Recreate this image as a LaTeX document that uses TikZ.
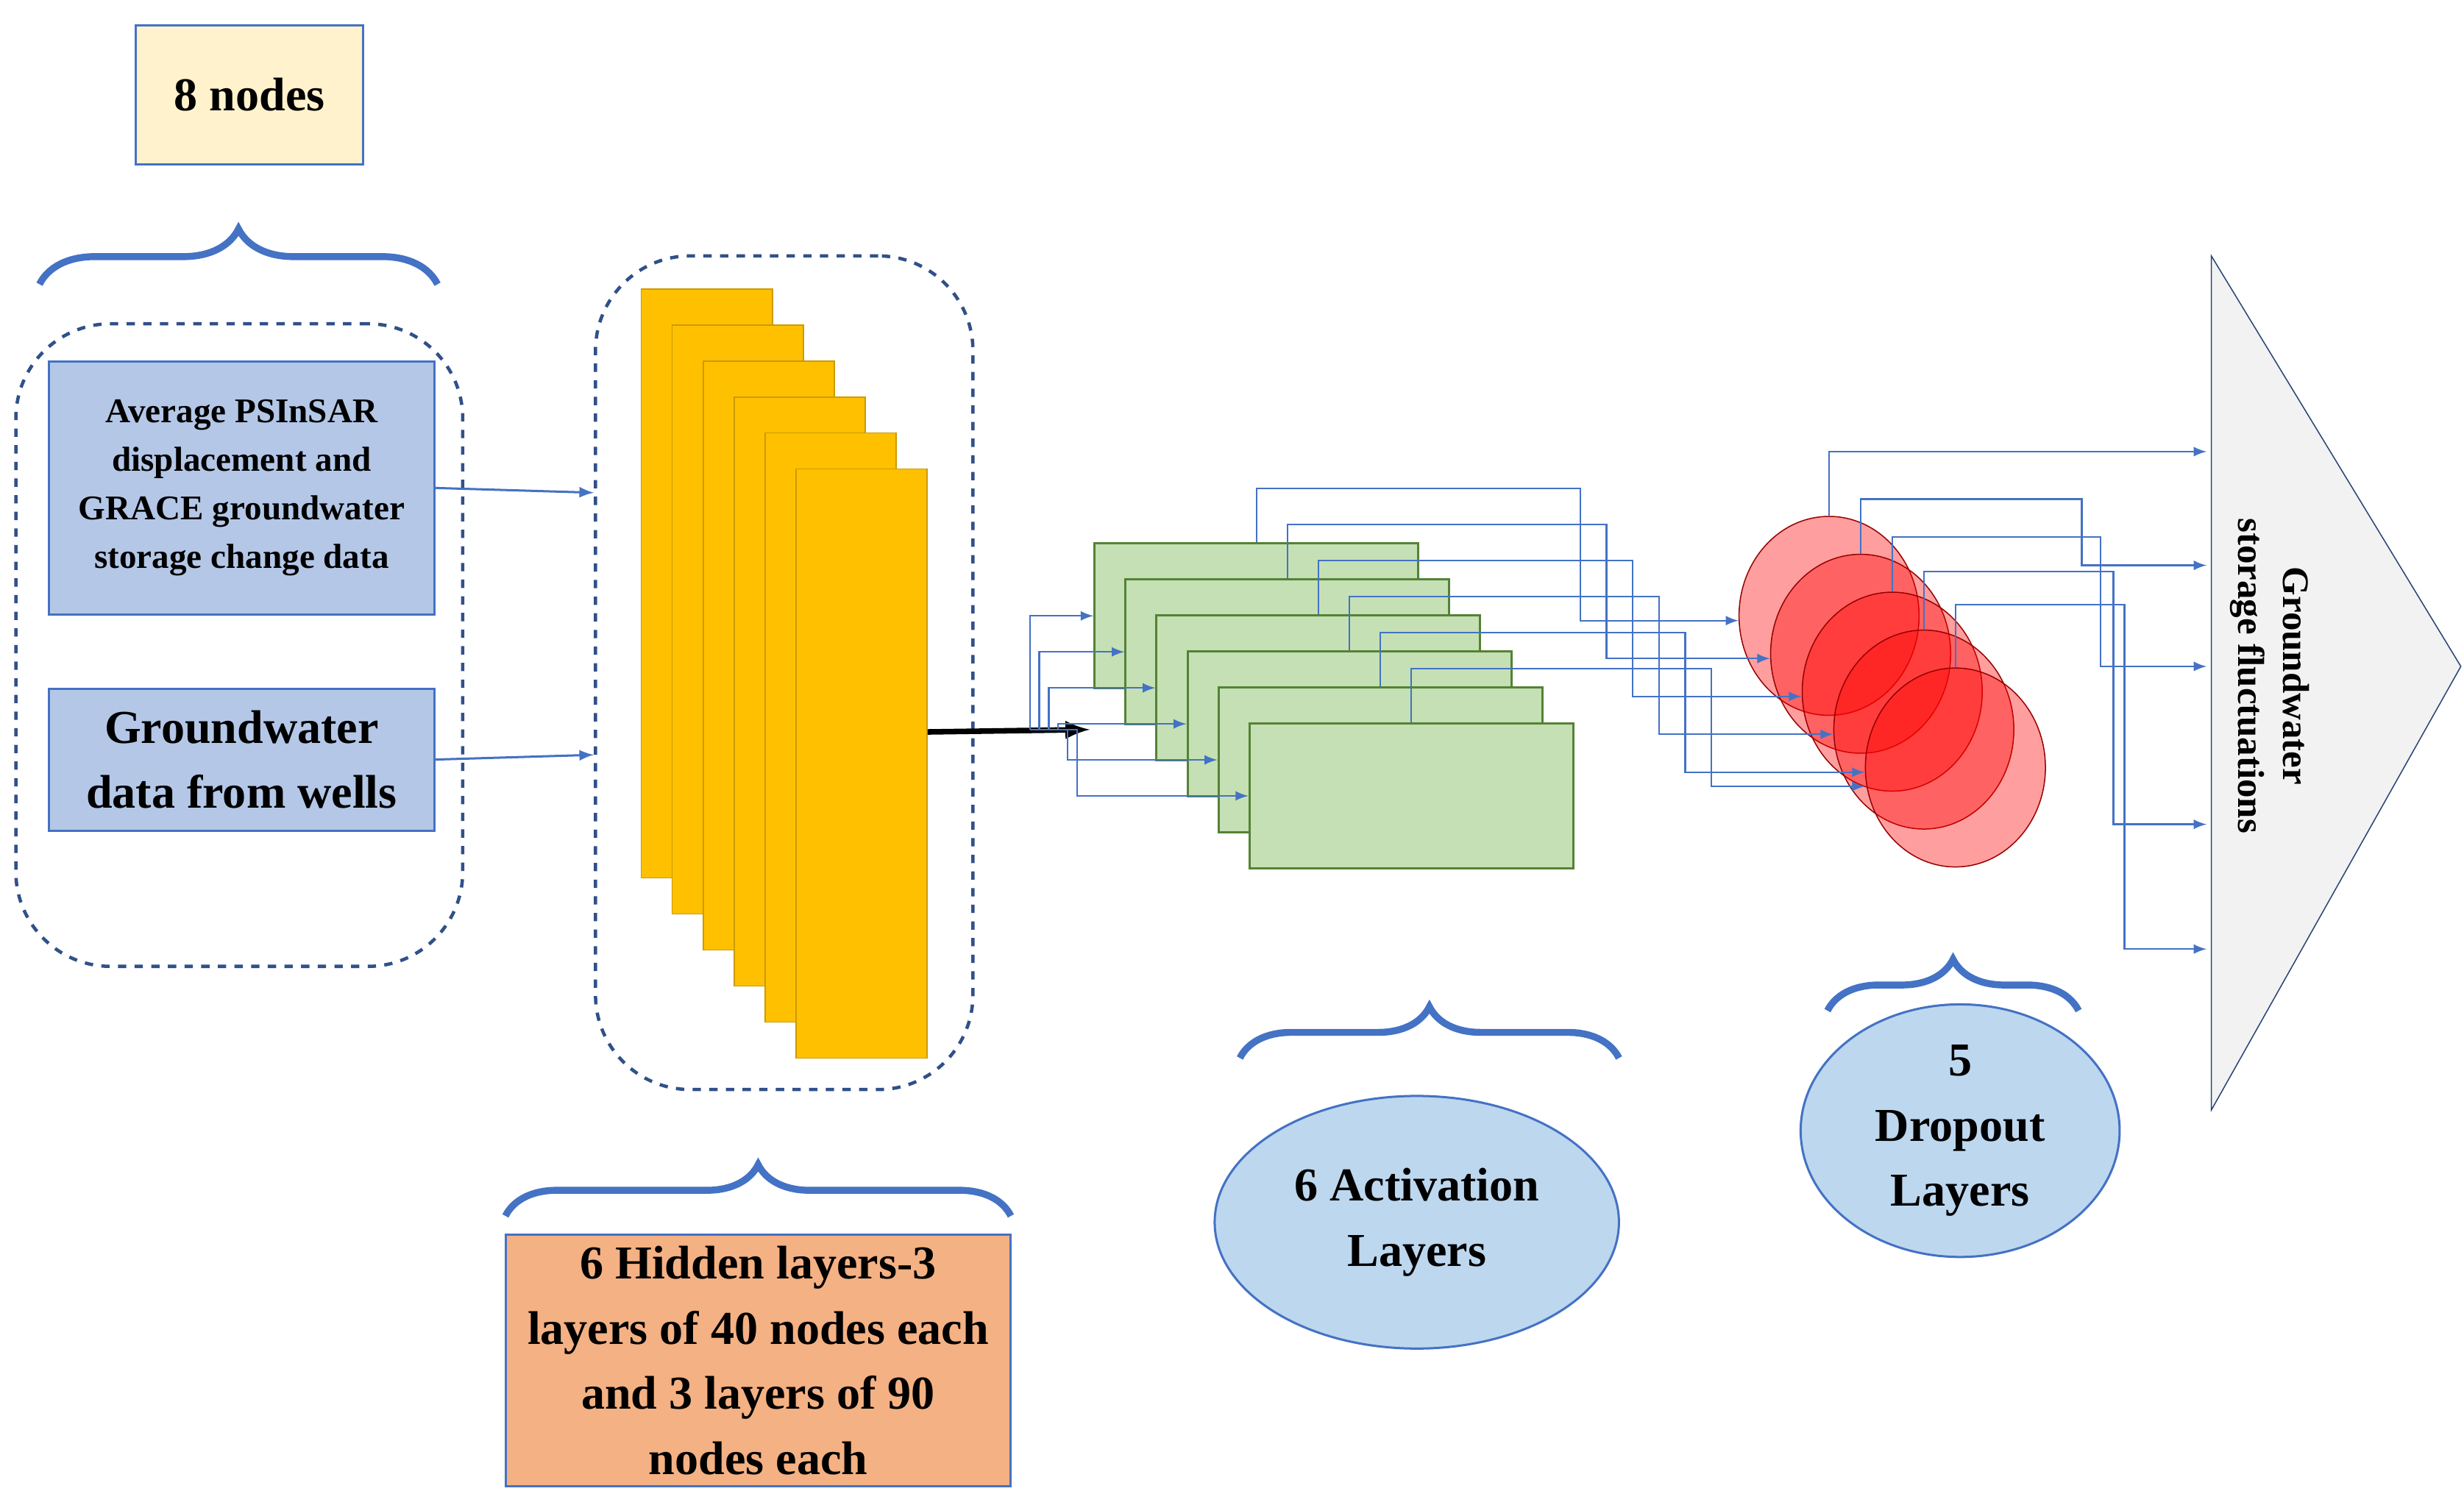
\documentclass[tikz,border=0pt]{standalone}
\usepackage{fontspec}
\setmainfont{Liberation Serif}
\usetikzlibrary{shapes.geometric,decorations.pathreplacing,calc}
\definecolor{linkblue}{RGB}{68,114,196}
\definecolor{boxblue}{RGB}{180,199,231}
\definecolor{ellblue}{RGB}{189,215,238}
\definecolor{hidorange}{RGB}{255,192,0}
\definecolor{actgreen}{RGB}{197,224,180}
\definecolor{edgegreen}{RGB}{84,130,53}
\definecolor{noteorange}{RGB}{244,177,131}
\definecolor{noteyellow}{RGB}{255,242,204}
\begin{document}
\begin{tikzpicture}[x=0.02cm,y=-0.02cm,
  box/.style={draw=linkblue,thick,align=center,inner sep=1pt,font=\bfseries},
  big/.style={font=\fontsize{17}{23.5}\selectfont\bfseries},
  small/.style={font=\fontsize{12.5}{17.5}\selectfont\bfseries},
  group/.style={draw=linkblue!70!black,dashed,line width=1.2pt,rounded corners=1.2cm},
  brc/.style={draw=linkblue,line width=2.5pt,decorate,decoration={brace,amplitude=#1}},
  hid/.style={draw=hidorange!80!black,fill=hidorange,minimum width=1.66cm,minimum height=7.46cm,inner sep=0},
  act/.style={draw=edgegreen,fill=actgreen,thick,minimum width=4.1cm,minimum height=1.84cm,inner sep=0},
  drop/.style={ellipse,draw=red!60!black,fill=red,fill opacity=0.38,minimum width=2.28cm,minimum height=2.52cm,inner sep=0},
  link/.style={draw=linkblue,semithick,-latex}]
\useasboundingbox (0,0) rectangle (1560,953);

% input side
\node[box,big,fill=noteyellow,minimum width=2.88cm,minimum height=1.76cm] (nodes) at (158,60) {8 nodes};
\draw[brc=0.7cm] (25,180) -- (277,180);
\node[group,minimum width=5.66cm,minimum height=8.14cm] (ingroup) at (151.5,408.5) {};
\node[box,small,fill=boxblue,minimum width=4.88cm,minimum height=3.2cm] (psinsar) at (153,309) {Average PSInSAR\\displacement and\\GRACE groundwater\\storage change data};
\node[box,big,fill=boxblue,minimum width=4.88cm,minimum height=1.8cm] (wells) at (153,481) {Groundwater\\data from wells};

% hidden layers
\node[group,minimum width=4.78cm,minimum height=10.56cm] (hidgroup) at (496.5,426) {};
\foreach \i in {0,...,5}
  \node[hid] (h\i) at (447.5+19.6*\i,369.5+22.8*\i) {};
\draw[link,thick] (psinsar.east) -- ($(hidgroup.west)+(0,-114)$);
\draw[link,thick] (wells.east) -- ($(hidgroup.west)+(0,52)$);
\draw[brc=0.65cm] (320,770) -- (640,770);
\node[box,big,fill=noteorange,minimum width=6.4cm,minimum height=3.18cm] (hidnote) at (480,861.5) {6 Hidden layers-3\\layers of 40 nodes each\\and 3 layers of 90\\nodes each};

% activation layers
\foreach \i in {0,...,5}
  \node[act] (g\i) at (795.5+19.6*\i,390+22.8*\i) {};
\coordinate (fork) at (652,462);
\coordinate (trunk) at (690,462);
\draw[line width=2pt,-latex] ($(h5.east)+(0,-20)$) -- (trunk);
\foreach \i in {0,...,5}
  \draw[link] (fork) -- ++(6*\i,0) |- (g\i.west);
\draw[brc=0.65cm] (785,670) -- (1025,670);
\node[ellipse,draw=linkblue,thick,fill=ellblue,big,align=center,inner sep=0,minimum width=5.12cm,minimum height=3.2cm] (actnote) at (897,774) {6 Activation\\Layers};

% dropout layers
\foreach \i in {0,...,4}
  \node[drop] (d\i) at (1158+20*\i,390+24*\i) {};
\foreach \i/\dx/\k/\off in {0/205/0/3,1/202/1/3,2/199/2/3,3/196/3/3,4/193/4/3,5/190/4/12}
  \draw[link] (g\i.north) -- ++(0,-34) -- ++(\dx,0) |- ($(d\k.west)+(0,\off)$);
\draw[brc=0.65cm] (1157,640) -- (1316,640);
\node[ellipse,draw=linkblue,thick,fill=ellblue,big,align=center,inner sep=0,minimum width=4.04cm,minimum height=3.2cm] (dropnote) at (1241,716) {5\\Dropout\\Layers};

% output
\draw[draw=linkblue!60!black,fill=gray!10] (1400,162) -- (1558,422) -- (1400,703) -- cycle;
\node[rotate=-90,align=center,font=\fontsize{13.5}{16}\selectfont\bfseries] (outlbl) at (1437,428) {Groundwater\\storage fluctuations};
\foreach \i/\ty in {0/286,1/358,2/422,3/522,4/601}
  \coordinate (t\i) at (1397,\ty);
\draw[link] (d0.north) |- (t0);
\draw[link] (d1.north) |- (1318,316) |- (t1);
\draw[link] (d2.north) |- (1330,340) |- (t2);
\draw[link] (d3.north) |- (1338,362) |- (t3);
\draw[link] (d4.north) |- (1345,383) |- (t4);
\end{tikzpicture}
\end{document}
